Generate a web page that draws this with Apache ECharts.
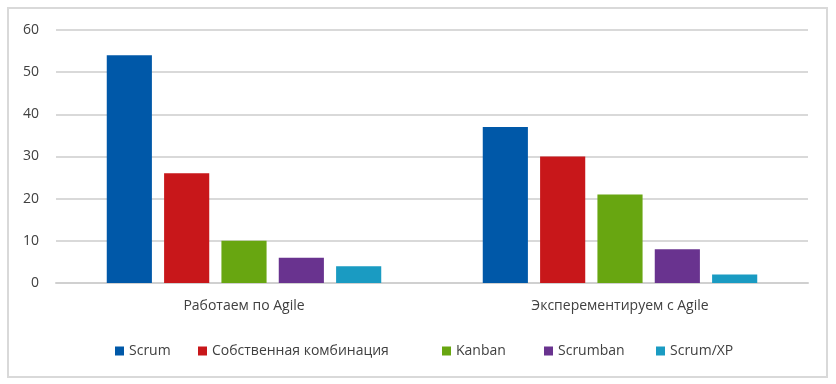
<!DOCTYPE html>
<html>
<head>
<meta charset="utf-8">
<script src="https://cdn.jsdelivr.net/npm/echarts@6/dist/echarts.min.js"></script>
<style>
  html, body { margin: 0; padding: 0; background: #fff; }
  #chart { width: 836px; height: 384px; }
</style>
</head>
<body>
<div id="chart"></div>
<script>
// data
const categories = ['Работаем по Agile', 'Эксперементируем с Agile'];
const seriesNames = ['Scrum', 'Собственная комбинация', 'Kanban', 'Scrumban', 'Scrum/XP'];
const scrum = [54, 37];
const ownMix = [26, 30];
const kanban = [10, 21];
const scrumban = [6, 8];
const scrumXp = [4, 2];
const yTicks = [0, 10, 20, 30, 40, 50, 60];

const colors = ['#0058a8', '#c8171a', '#68a611', '#69338f', '#1a9bc2'];
const values = [scrum, ownMix, kanban, scrumban, scrumXp];
// left position of each legend icon
const legendLeft = [110, 193, 437, 539, 651];

const chart = echarts.init(document.getElementById('chart'));

const textFont = 'Open Sans';

chart.setOption({
    animation: false,
    color: colors,
    grid: { left: 56, right: 28, top: 30, bottom: 101 },
    graphic: [{
        type: 'rect',
        shape: { x: 8, y: 8, width: 819, height: 369 },
        style: { fill: 'none', stroke: '#d9d9d9', lineWidth: 2 },
        silent: true
    }],
    legend: seriesNames.map((name, i) => ({
        data: [name],
        left: legendLeft[i],
        top: 339,
        icon: 'rect',
        itemWidth: 9,
        itemHeight: 9,
        selectedMode: false,
        textStyle: { color: '#404040', fontSize: 14, fontFamily: textFont }
    })),
    xAxis: {
        type: 'category',
        data: categories,
        axisLine: { show: true, lineStyle: { color: '#d0d0d0', width: 2 } },
        axisTick: { show: false },
        axisLabel: { color: '#404040', fontSize: 14, fontFamily: textFont, margin: 16 }
    },
    yAxis: {
        type: 'value',
        min: yTicks[0],
        max: yTicks[yTicks.length - 1],
        interval: 10,
        axisLine: { show: false },
        axisTick: { show: false },
        splitLine: { lineStyle: { color: '#d9d9d9', width: 2 } },
        axisLabel: { color: '#404040', fontSize: 14, fontFamily: textFont, margin: 17 }
    },
    series: seriesNames.map((name, i) => ({
        name: name,
        type: 'bar',
        data: values[i],
        barGap: '27%',
        barCategoryGap: '27%',
        itemStyle: { color: colors[i] }
    }))
});
</script>
</body>
</html>
